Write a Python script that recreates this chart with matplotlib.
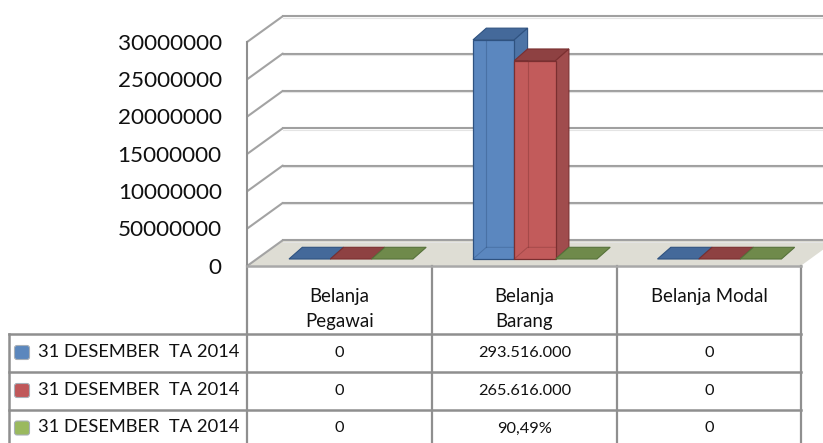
import matplotlib
matplotlib.use("Agg")
import matplotlib.pyplot as plt
from matplotlib.patches import Polygon, FancyBboxPatch

plt.rcParams['font.family'] = ['Lato', 'DejaVu Sans']

# ---- data ----
categories = ["Belanja\nPegawai", "Belanja\nBarang", "Belanja Modal"]
series_names = ["31 DESEMBER  TA 2014", "31 DESEMBER  TA 2014", "31 DESEMBER  TA 2014"]
blue_values = [0, 293516000, 0]
red_values = [0, 265616000, 0]
green_values = [0, 0, 0]
blue_text = ["0", "293.516.000", "0"]
red_text = ["0", "265.616.000", "0"]
green_text = ["0", "90,49%", "0"]
tick_values = [0, 50000000, 100000000, 150000000, 200000000, 250000000, 300000000]
tick_labels = ["0", "50000000", "10000000", "15000000", "20000000", "25000000", "30000000"]

# ---- geometry (pixels) ----
W, H = 823, 443
FX0, FX1, FY0, FYT = 247.5, 801, 265.7, 41.7
DX_W, DY_W = 35.3, 25.5   # wall depth
BW = 41.3                 # bar width
DX_B, DY_B = 13.3, 11.7   # bar depth
BASE_PX = 6.7             # bar base above front floor edge
GROUP_X = [289, 473, 657.5]
LINE = "#8f8f8f"

fig = plt.figure(figsize=(W / 100, H / 100), dpi=100, facecolor="white")

# pixel overlay for frame and table
bg = fig.add_axes([0, 0, 1, 1], zorder=1)
bg.set_xlim(0, W)
bg.set_ylim(H, 0)
bg.axis("off")

# value axes for bars and tick labels
ax = fig.add_axes([FX0 / W, 1 - FY0 / H, (W - FX0) / W, (FY0 - FYT) / H], zorder=2)
ax.patch.set_alpha(0)
ax.set_xlim(FX0, W)
ax.set_ylim(0, 300000000)
for s in ax.spines.values():
    s.set_visible(False)
ax.set_xticks([])
ax.set_yticks(tick_values)
ax.set_yticklabels(tick_labels, fontsize=16.2, color="#111111")
ax.tick_params(axis="y", length=0, pad=18.5)
for lab in ax.get_yticklabels():
    lab.set_y(0)

vpp = 300000000 / (FY0 - FYT)  # value per pixel
base = BASE_PX * vpp

# floor
bg.add_patch(Polygon([(FX0, FY0), (FX0 + DX_W, FY0 - DY_W - 0.2), (FX1 + DX_W, FY0 - DY_W - 0.2), (FX1, FY0)],
                     closed=True, fc="#deddd4", ec="none", zorder=1))

# walls / gridlines
for i, v in enumerate(tick_values):
    y = FY0 - v / vpp
    bg.plot([FX0, FX0 + DX_W], [y, y - DY_W], color="#a3a3a3", lw=1.5, solid_capstyle="round", zorder=2)
    bg.plot([FX0 + DX_W, W], [y - DY_W, y - DY_W], color="#a0a0a0", lw=1.5, zorder=2)
    bg.plot([FX0 + DX_W, W], [y - DY_W + 1.4, y - DY_W + 1.4], color="#e4e4e4", lw=0.8, zorder=2)
bg.plot([FX0, FX0], [FYT, FY0], color=LINE, lw=1.5, zorder=3)

# table
XS = [FX0, 432, 617, FX1]
YS = [FY0, 334, 372, 410, H]
LX = 9.5
for x in XS:
    bg.plot([x, x], [FY0, H], color=LINE, lw=1.6, zorder=3)
bg.plot([FX0, FX1], [FY0, FY0], color="#a8a8a8", lw=1.8, zorder=3)
for y in YS[1:4]:
    bg.plot([LX, FX1], [y, y], color=LINE, lw=1.8, zorder=3)
bg.plot([LX, LX], [YS[1], H], color=LINE, lw=1.8, zorder=3)

centers = [(XS[i] + XS[i + 1]) / 2 for i in range(3)]
for cx, label in zip(centers, categories):
    parts = label.split("\n")
    for line, y in zip(parts, [296.5, 322]):
        bg.text(cx, y, line, ha="center", va="center", fontsize=13.4, color="#111111", zorder=4)

swatches = ["#5b87bd", "#c0585a", "#9ab95f"]
rows = [blue_text, red_text, green_text]
row_y = [353, 391, 428.5]
for name, sw, texts, yc in zip(series_names, swatches, rows, row_y):
    bg.add_patch(FancyBboxPatch((14.5, yc - 7.5), 15, 14, boxstyle="round,pad=0,rounding_size=2.5",
                                fc=sw, ec="#a8b0b8", lw=0.8, zorder=4))
    bg.text(38.5, yc - 1, name, ha="left", va="center", fontsize=13.2, color="#111111", zorder=4)
    for cx, t in zip(centers, texts):
        bg.text(cx, yc, t, ha="center", va="center", fontsize=11.8, color="#111111", zorder=4)

# bars
colors = [
    dict(front="#5b87bf", side="#4d74a6", top="#44699a", edge="#2f5280"),
    dict(front="#c25b5b", side="#a04c4d", top="#8e4142", edge="#7a2f30"),
    dict(front="#8fb052", side="#7a9650", top="#6f8a4b", edge="#56723a"),
]
series = [blue_values, red_values, green_values]
for gi, gx in enumerate(GROUP_X):
    for si, vals in enumerate(series):
        v = vals[gi]
        c = colors[si]
        x0 = gx + si * BW
        zo = 3 + si + gi * 3
        dy = DY_B * vpp
        top_val = base + v
        ax.add_patch(Polygon([(x0, top_val), (x0 + DX_B, top_val + dy), (x0 + BW + DX_B, top_val + dy), (x0 + BW, top_val)],
                             closed=True, fc=c["top"], ec=c["edge"], lw=0.8, zorder=zo, clip_on=False))
        if v > 0:
            ax.add_patch(Polygon([(x0 + BW, base), (x0 + BW + DX_B, base + dy), (x0 + BW + DX_B, top_val + dy), (x0 + BW, top_val)],
                                 closed=True, fc=c["side"], ec=c["edge"], lw=0.8, zorder=zo, clip_on=False))
            ax.bar(x0, v, bottom=base, width=BW, align="edge", color=c["front"], edgecolor=c["edge"],
                   linewidth=0.9, zorder=zo + 0.5, clip_on=False)
            ax.plot([x0 + DX_B, x0 + DX_B], [base + dy, top_val], color=c["edge"], lw=0.8, alpha=0.4,
                    zorder=zo + 0.6, clip_on=False)
            ax.plot([x0, x0 + DX_B, x0 + BW], [base, base + dy, base + dy], color=c["edge"], lw=0.7, alpha=0.4,
                    zorder=zo + 0.6, clip_on=False)

fig.savefig("out.png", dpi=100, facecolor="white")
